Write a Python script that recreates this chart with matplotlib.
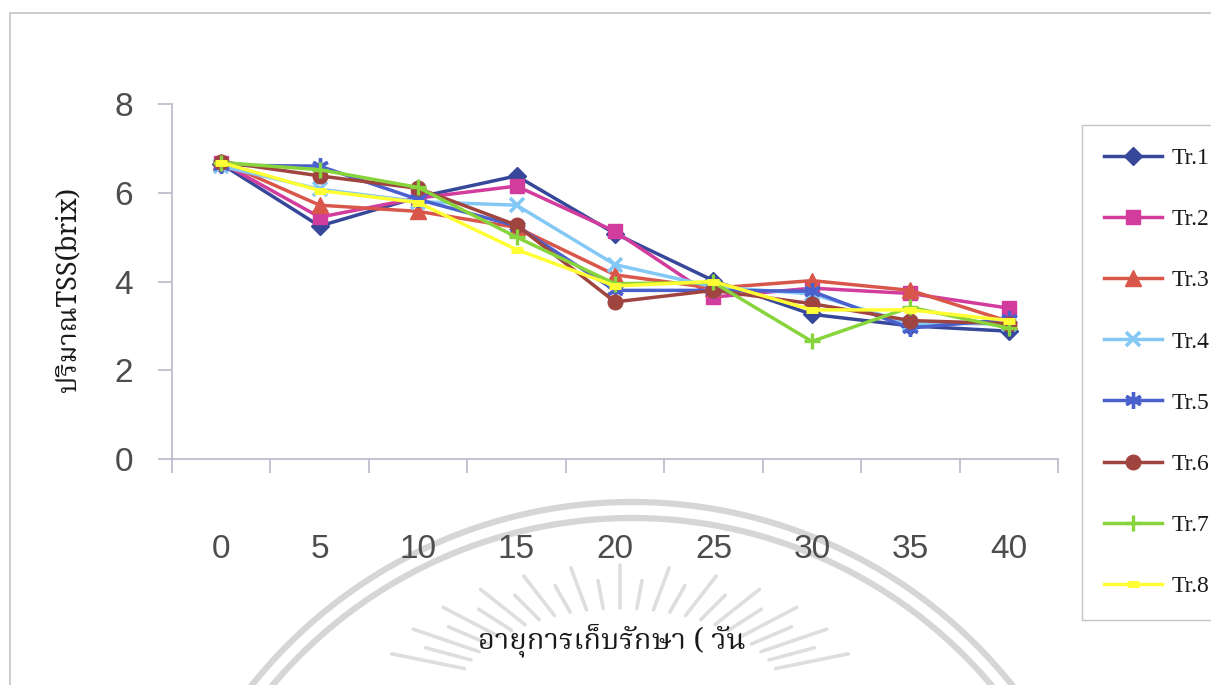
import numpy as np
import matplotlib
matplotlib.use("Agg")
import matplotlib.pyplot as plt
import matplotlib.font_manager as fm
from matplotlib.ft2font import FT2Font

# ---- data -------------------------------------------------------------
days = ["0", "5", "10", "15", "20", "25", "30", "35", "40"]
tr1 = [6.65, 5.25, 5.90, 6.38, 5.08, 4.02, 3.26, 3.00, 2.88]
tr2 = [6.68, 5.45, 5.88, 6.15, 5.13, 3.65, 3.85, 3.73, 3.40]
tr3 = [6.70, 5.72, 5.58, 5.22, 4.15, 3.85, 4.02, 3.80, 3.10]
tr4 = [6.60, 6.08, 5.80, 5.72, 4.38, 3.88, 3.72, 3.05, 3.05]
tr5 = [6.62, 6.60, 5.85, 5.25, 3.80, 3.80, 3.78, 2.95, 3.15]
tr6 = [6.70, 6.38, 6.10, 5.27, 3.54, 3.80, 3.50, 3.12, 3.05]
tr7 = [6.68, 6.52, 6.12, 5.00, 3.95, 3.98, 2.65, 3.42, 2.95]
tr8 = [6.68, 6.05, 5.78, 4.72, 3.90, 4.00, 3.36, 3.36, 3.12]
series_names = ["Tr.1", "Tr.2", "Tr.3", "Tr.4", "Tr.5", "Tr.6", "Tr.7", "Tr.8"]
y_ticks = [0, 2, 4, 6, 8]
y_label = "ปริมาณTSS(brix)"
x_label = "อายุการเก็บรักษา ( วัน"


# ---- fonts ------------------------------------------------------------
def font_with_glyph(ch, preferred):
    found = []
    for f in fm.fontManager.ttflist:
        try:
            if FT2Font(f.fname).get_char_index(ord(ch)):
                found.append(f.name)
        except Exception:
            pass
    for p in preferred:
        if p in found:
            return p
    return found[0] if found else "DejaVu Sans"


thai_font = font_with_glyph("ป", ["Norasi", "TH Sarabun New", "Noto Serif Thai",
                                   "Loma", "Garuda", "Noto Sans Thai", "Tlwg Typo"])
thai_family = [thai_font, "Liberation Serif", "DejaVu Sans"]

# ---- styles -----------------------------------------------------------
styles = [
    dict(color="#37479a", marker="D", ms=9),
    dict(color="#d23c9c", marker="s", ms=10.5),
    dict(color="#d9574a", marker="^", ms=11),
    dict(color="#84c8f6", marker="x", ms=10, mew=2.6),
    dict(color="#4a60cc", marker=(6, 2, 0), ms=12, mew=2.4),
    dict(color="#a04440", marker="o", ms=10.5),
    dict(color="#88d43c", marker="+", ms=12, mew=2.4),
    dict(color="#ffff33", marker="_", ms=9, mew=5),
]

W, H = 1211, 685
fig = plt.figure(figsize=(W / 100, H / 100), dpi=100)
fig.patch.set_facecolor("white")

# background layer in pixel units: chart border and faint seal watermark
bg = fig.add_axes([0, 0, 1, 1], zorder=0)
bg.set_xlim(0, W)
bg.set_ylim(H, 0)
bg.axis("off")
bg.plot([10, 10, W + 5], [H + 5, 13, 13], color="#c4c4c4", lw=1.2)

wm = "#d6d6d6"
cx, cy = 632, 988
for r in (486, 470):
    t = np.linspace(np.pi * 1.15, np.pi * 1.85, 300)
    bg.plot(cx + r * np.cos(t), cy + r * np.sin(t), color=wm, lw=4.5,
            solid_capstyle="round")
rx, ry = 620, 700
for i, a in enumerate(np.linspace(np.radians(200), np.radians(340), 25)):
    r0 = 92
    r1 = 135 if i % 2 == 0 else 120
    bg.plot([rx + 1.8 * r0 * np.cos(a), rx + 1.8 * r1 * np.cos(a)],
            [ry + r0 * np.sin(a), ry + r1 * np.sin(a)],
            color="#dedede", lw=2.6, solid_capstyle="round")

# ---- main plot --------------------------------------------------------
ax = fig.add_axes([172 / W, 1 - 459 / H, (1058 - 172) / W, (459 - 104) / H],
                  zorder=2)
ax.set_facecolor("none")
x = np.arange(len(days))
all_series = [tr1, tr2, tr3, tr4, tr5, tr6, tr7, tr8]
for i, (vals, name, st) in enumerate(zip(all_series, series_names, styles)):
    ax.plot(x, vals, label=name, lw=2.5, color=st["color"], marker=st["marker"],
            ms=st["ms"], mew=st.get("mew", 1), mfc=st["color"], mec=st["color"],
            zorder=3 + i)

ax.set_xlim(-0.5, len(days) - 0.5)
ax.set_ylim(y_ticks[0], y_ticks[-1])
ax.set_xticks(x, labels=days)
ax.set_xticks(np.arange(-0.5, len(days)), minor=True)
ax.set_yticks(y_ticks)

axis_col = "#b9b9c9"
for s in ("top", "right"):
    ax.spines[s].set_visible(False)
for s in ("left", "bottom"):
    ax.spines[s].set_color(axis_col)
    ax.spines[s].set_linewidth(1.2)

ax.tick_params(axis="x", which="major", length=0, pad=54, labelsize=24,
               labelcolor="#4d4d4d")
ax.tick_params(axis="x", which="minor", length=10, width=1.2, color=axis_col)
ax.tick_params(axis="y", length=10, width=1.2, color=axis_col, pad=18,
               labelsize=24, labelcolor="#4d4d4d")
for lbl in ax.get_xticklabels() + ax.get_yticklabels():
    lbl.set_family("Liberation Sans")

# axis titles
fig.text(68 / W, 1 - 290 / H, y_label, rotation=90, ha="center", va="center",
         family=thai_family, fontsize=19.5, fontweight="bold", color="#1a1a1a")
fig.text(612 / W, 1 - 640 / H, x_label, ha="center", va="center",
         family=thai_family, fontsize=21, fontweight="bold", color="#1a1a1a")

# legend
leg = ax.legend(loc="upper left", bbox_to_anchor=(1082 / W, 1 - 125 / H),
                bbox_transform=fig.transFigure, borderaxespad=0, frameon=True,
                fancybox=False, numpoints=1, handlelength=2.45,
                handletextpad=0.4, labelspacing=1.68, borderpad=0.95,
                prop=dict(family="Liberation Serif", size=17))
leg.get_frame().set_edgecolor("#b5b5b5")
leg.get_frame().set_linewidth(1.0)
for t in leg.get_texts():
    t.set_color("#1a1a1a")

fig.savefig("out.png", dpi=100)
